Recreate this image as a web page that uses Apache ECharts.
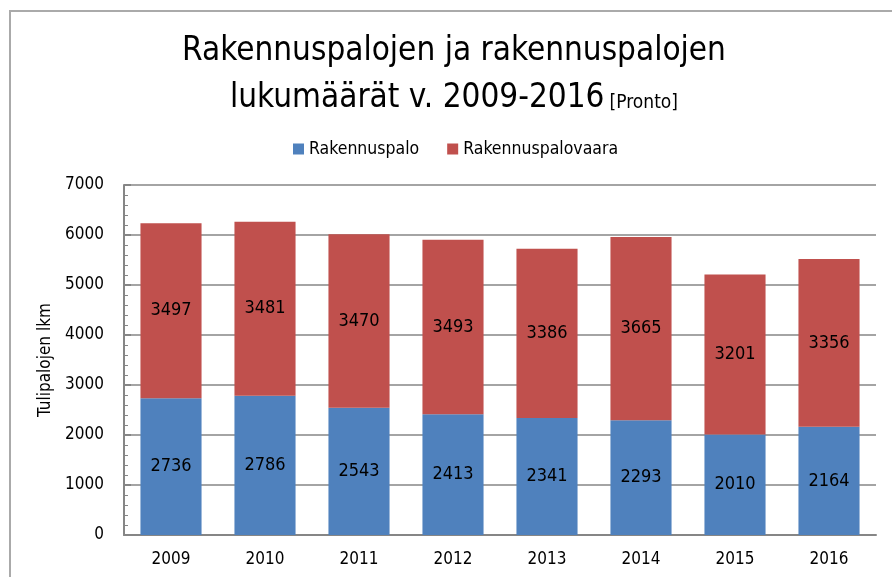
<!DOCTYPE html>
<html>
<head>
<meta charset="utf-8">
<script src="https://cdn.jsdelivr.net/npm/echarts@6/dist/echarts.min.js"></script>
<style>
  html, body { margin: 0; padding: 0; background: #fff; }
  #chart { width: 892px; height: 577px; }
</style>
</head>
<body>
<div id="chart"></div>
<script>
var years = ['2009', '2010', '2011', '2012', '2013', '2014', '2015', '2016'];
var rakennuspalo = [2736, 2786, 2543, 2413, 2341, 2293, 2010, 2164];
var palovaara = [3497, 3481, 3470, 3493, 3386, 3665, 3201, 3356];
var seriesNames = ['Rakennuspalo', 'Rakennuspalovaara'];

var font = "'Liberation Sans Narrow', 'DejaVu Sans Condensed', sans-serif";

var myChart = echarts.init(document.getElementById('chart'));

var option = {
  animation: false,
  textStyle: { fontFamily: font },
  graphic: [{
    type: 'polyline',
    shape: { points: [[10, 577], [10, 11], [892, 11]] },
    style: { stroke: '#aaaaaa', lineWidth: 2, fill: null }
  }],
  title: {
    left: 449,
    top: 23,
    textAlign: 'center',
    text: '{a|Rakennuspalojen ja rakennuspalojen}\n{a|lukumäärät v. 2009-2016} {b|[Pronto]}',
    textStyle: {
      fontWeight: 'normal',
      rich: {
        a: { fontSize: 33, color: '#000', fontFamily: font, fontWeight: 'normal', lineHeight: 47 },
        b: { fontSize: 19, color: '#000', fontFamily: font, fontWeight: 'normal', lineHeight: 47, padding: [10, 0, 0, 0] }
      }
    }
  },
  legend: {
    top: 135,
    left: 288,
    itemWidth: 11,
    itemHeight: 11,
    itemGap: 28,
    icon: 'rect',
    textStyle: { fontSize: 17.5, color: '#000', fontFamily: font },
    data: seriesNames
  },
  grid: { left: 124, right: 16, top: 185, bottom: 42 },
  xAxis: {
    type: 'category',
    data: years,
    axisLine: { lineStyle: { color: '#868686', width: 2 } },
    axisTick: { show: false },
    axisLabel: { color: '#000', fontSize: 17, margin: 16, fontFamily: font }
  },
  yAxis: {
    type: 'value',
    min: 0,
    max: 7000,
    interval: 1000,
    name: 'Tulipalojen lkm',
    nameLocation: 'middle',
    nameGap: 70,
    nameRotate: 90,
    nameTextStyle: { color: '#000', fontSize: 17, fontFamily: font },
    axisLine: { show: true, lineStyle: { color: '#868686', width: 2 } },
    axisTick: { show: true, inside: true, length: 7, lineStyle: { color: '#868686', width: 2 } },
    minorTick: { show: true, splitNumber: 5, length: 4, lineStyle: { color: '#868686' } },
    axisLabel: {
      color: '#000', fontSize: 17, margin: 20, fontFamily: font,
      formatter: function (v) { return String(v); }
    },
    splitLine: { lineStyle: { color: '#868686', width: 1.5 } }
  },
  series: [{
    name: seriesNames[0],
    type: 'bar',
    stack: 'total',
    barCategoryGap: '35%',
    itemStyle: { color: '#4f81bd' },
    label: { show: true, position: 'inside', color: '#000', fontSize: 18, fontFamily: font },
    data: rakennuspalo
  }, {
    name: seriesNames[1],
    type: 'bar',
    stack: 'total',
    barCategoryGap: '35%',
    itemStyle: { color: '#c0504d' },
    label: { show: true, position: 'inside', color: '#000', fontSize: 18, fontFamily: font },
    data: palovaara
  }]
};

myChart.setOption(option);
</script>
</body>
</html>
